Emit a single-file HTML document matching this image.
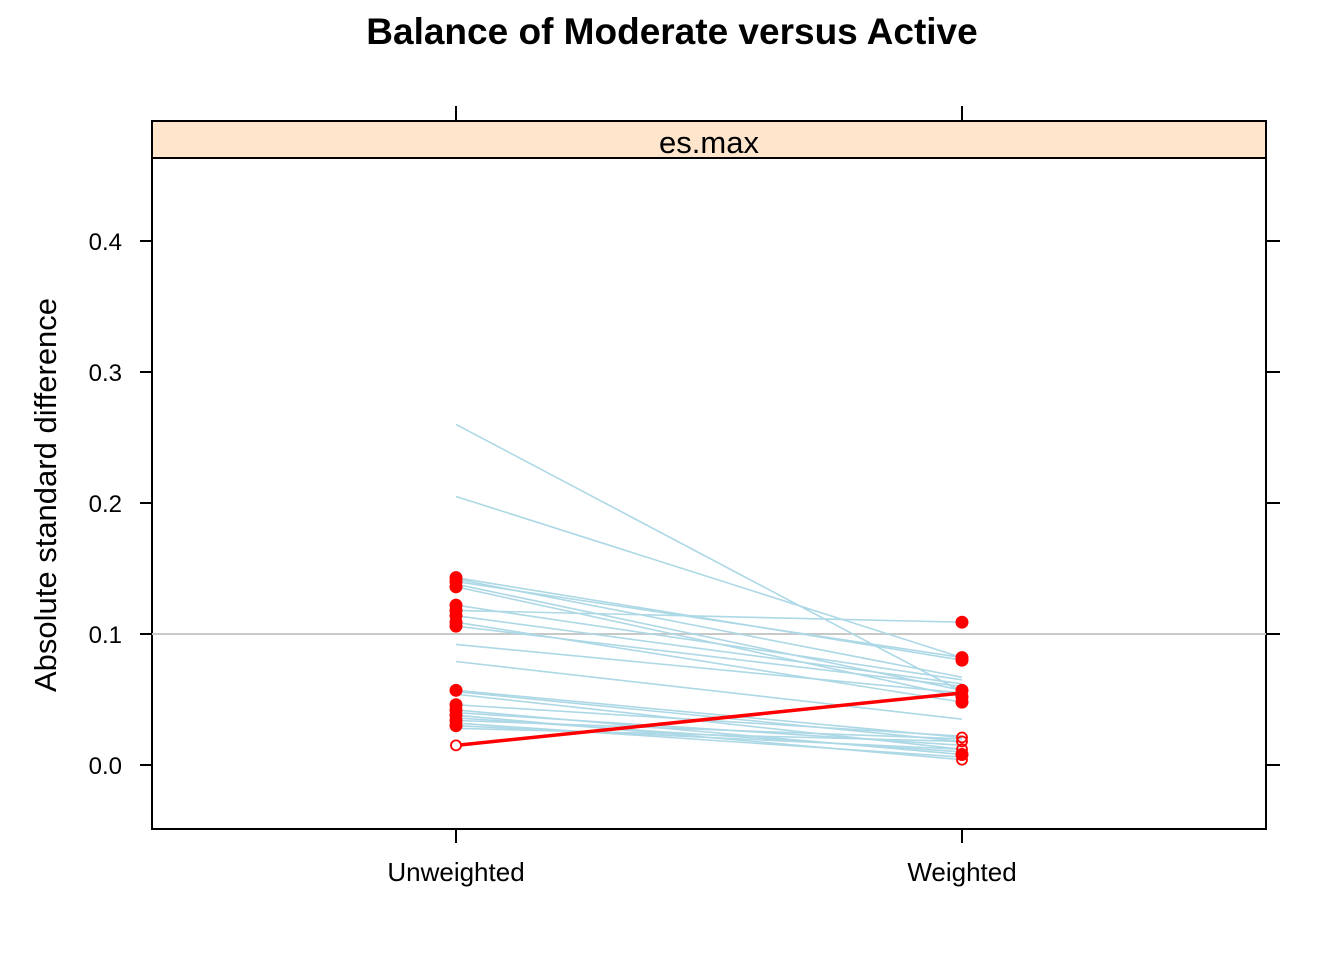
<!DOCTYPE html>
<html><head><meta charset="utf-8"><style>
body{margin:0;background:#fff;}
svg text{font-family:"Liberation Sans",Arial,sans-serif;}
</style></head><body>
<svg id="c" width="1344" height="960" xmlns="http://www.w3.org/2000/svg">
<text x="672" y="44" text-anchor="middle" font-size="37" font-weight="bold">Balance of Moderate versus Active</text>
<rect x="152" y="121" width="1114" height="37" fill="#ffe5cc" stroke="#000" stroke-width="2"/>
<text x="709" y="153" text-anchor="middle" font-size="31">es.max</text>
<rect x="152" y="158" width="1114" height="671" fill="none" stroke="#000" stroke-width="2"/>
<text transform="translate(56,495) rotate(-90)" text-anchor="middle" font-size="31">Absolute standard difference</text>
<g id="axes"></g><g id="marks"></g>
</svg>
<script>
const categories=["Unweighted","Weighted"];
const yTicks=[0,0.1,0.2,0.3,0.4];
const yTickLabels=["0.0","0.1","0.2","0.3","0.4"];
const unweighted=[0.26,0.205,0.143,0.142,0.14,0.138,0.136,0.122,0.118,0.114,0.109,0.106,0.092,0.079,0.057,0.056,0.054,0.046,0.042,0.04,0.038,0.036,0.034,0.032,0.03,0.028];
const weighted=[0.056,0.082,0.08,0.067,0.082,0.057,0.052,0.065,0.109,0.062,0.048,0.06,0.055,0.035,0.021,0.018,0.012,0.022,0.008,0.015,0.004,0.01,0.02,0.006,0.012,0.018];
const highlightU=0.015, highlightW=0.055;
const uFilled=[0.143,0.14,0.136,0.122,0.118,0.114,0.109,0.106,0.057,0.046,0.042,0.038,0.034,0.03];
const wFilled=[0.109,0.082,0.08,0.057,0.052,0.048,0.008];
const wOpen=[0.021,0.018,0.012,0.004];
const NS="http://www.w3.org/2000/svg";
const xs=i=>456+i*506;
const ys=v=>765-v*1310;
function mk(tag,attrs,parent){const e=document.createElementNS(NS,tag);for(const k in attrs)e.setAttribute(k,attrs[k]);parent.appendChild(e);return e;}
const ax=document.getElementById('axes'),mg=document.getElementById('marks');
yTicks.forEach((t,i)=>{const y=ys(t);
 let l=mk('line',{x1:140,x2:152,y1:y,y2:y,stroke:'#000','stroke-width':2},ax);
 
 
 let r=mk('line',{x1:1266,x2:1280,y1:y,y2:y,stroke:'#000','stroke-width':2},ax);
 
 
 let tx=mk('text',{x:122,y:y+9,'text-anchor':'end','font-size':24},ax);tx.textContent=yTickLabels[i];
 
 
});
categories.forEach((c,i)=>{const x=xs(i);
 let t=mk('line',{x1:x,x2:x,y1:106,y2:121,stroke:'#000','stroke-width':2},ax);
 
 
 let b=mk('line',{x1:x,x2:x,y1:829,y2:843,stroke:'#000','stroke-width':2},ax);
 
 
 let tx=mk('text',{x:x,y:881,'text-anchor':'middle','font-size':26},ax);tx.textContent=c;
 
 
});
let ref=mk('line',{x1:152,x2:1266,y1:ys(0.1),y2:ys(0.1),stroke:'#c8c8c8','stroke-width':2},mg);


unweighted.forEach((u,i)=>{
 let l=mk('line',{x1:xs(0),y1:ys(u),x2:xs(1),y2:ys(weighted[i]),stroke:'#add8e6','stroke-width':1.6},mg);
 
 
});
let hl=mk('line',{x1:xs(0),y1:ys(highlightU),x2:xs(1),y2:ys(highlightW),stroke:'#f00','stroke-width':3.5},mg);


uFilled.forEach(v=>{let c=mk('circle',{cx:xs(0),cy:ys(v),r:6.5,fill:'#f00'},mg);
 
 });
wFilled.forEach(v=>{let c=mk('circle',{cx:xs(1),cy:ys(v),r:6.5,fill:'#f00'},mg);
 
 });
wOpen.forEach(v=>{let c=mk('circle',{cx:xs(1),cy:ys(v),r:5,fill:'none',stroke:'#f00','stroke-width':1.8},mg);
 
 });
let oc=mk('circle',{cx:xs(0),cy:ys(highlightU),r:5,fill:'#fff',stroke:'#f00','stroke-width':1.8},mg);


</script>
</body></html>
